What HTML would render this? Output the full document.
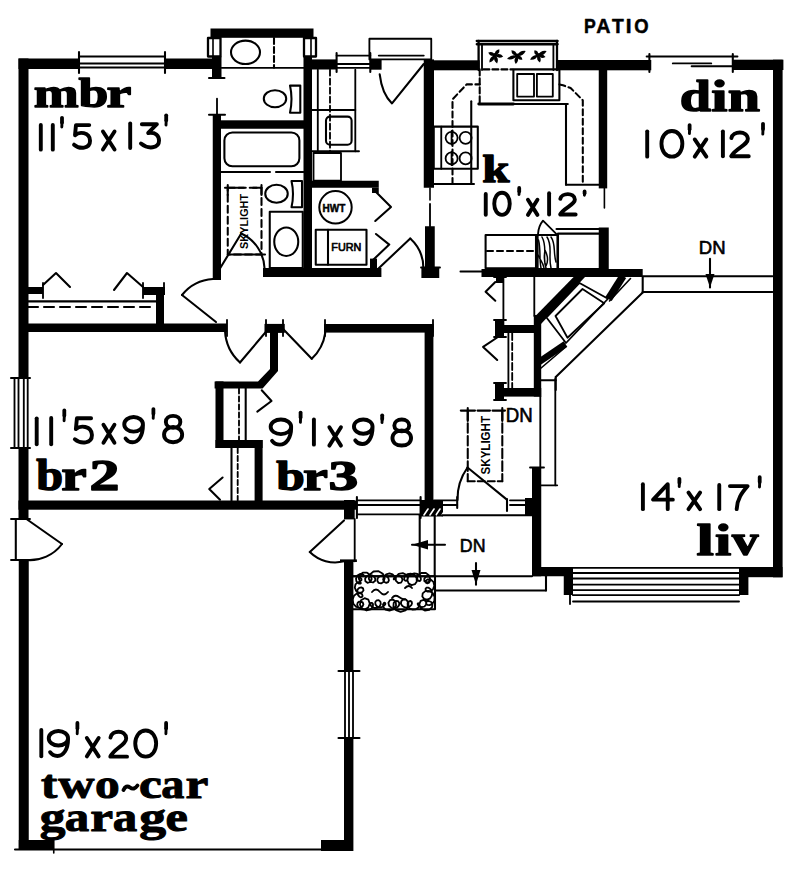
<!DOCTYPE html>
<html><head><meta charset="utf-8"><style>
html,body{margin:0;padding:0;background:#fff;}
svg{display:block;}
</style></head><body>
<svg width="800" height="871" viewBox="0 0 800 871">
<rect width="800" height="871" fill="#fff"/>
<g fill="#000">
<rect x="18.5" y="58.5" width="60.5" height="10.5"/>
<rect x="165" y="58.5" width="47" height="10.5"/>
<rect x="210.5" y="28.5" width="103.0" height="9.3"/>
<rect x="212" y="56.5" width="9.5" height="21.5"/>
<rect x="303.5" y="56.5" width="8.5" height="220.5"/>
<rect x="312" y="59.4" width="24.6" height="10.1"/>
<rect x="370.3" y="59.4" width="11.3" height="10.3"/>
<rect x="423.75" y="59.4" width="10.25" height="128.35"/>
<rect x="434" y="60.3" width="45.7" height="10.0"/>
<rect x="557.5" y="60" width="93.75" height="10.3"/>
<rect x="732.8" y="59.7" width="50.6" height="10.3"/>
<rect x="773" y="59.7" width="9.6" height="517.6"/>
<rect x="598.75" y="60" width="8.45" height="128.4"/>
<rect x="212.75" y="114.7" width="8.25" height="165.3"/>
<rect x="221" y="120.3" width="83" height="8.45"/>
<rect x="310.5" y="180.75" width="68.25" height="7.0"/>
<rect x="372" y="187.75" width="6.75" height="5.25"/>
<rect x="370" y="258.6" width="7" height="11.4"/>
<rect x="263" y="268" width="118.4" height="9"/>
<rect x="425" y="226.25" width="9.75" height="50.75"/>
<rect x="421.4" y="268" width="17.85" height="10"/>
<path d="M494.9,55.3 Q493.0,50.6 488.3,52.5 Q490.2,57.2 494.9,55.3 Z"/>
<path d="M494.9,55.3 Q500.0,54.3 499.3,49.2 Q494.2,50.1 494.9,55.3 Z"/>
<path d="M494.9,55.3 Q498.6,59.4 503.2,56.4 Q499.5,52.2 494.9,55.3 Z"/>
<path d="M494.9,55.3 Q492.5,60.3 497.1,63.5 Q499.5,58.4 494.9,55.3 Z"/>
<path d="M494.9,55.3 Q489.3,56.6 489.4,62.4 Q495.0,61.0 494.9,55.3 Z"/>
<circle cx="494.9020902090209" cy="55.25192519251925" r="2.2"/>
<path d="M516.9,55.8 Q516.7,50.5 511.4,50.3 Q511.6,55.6 516.9,55.8 Z"/>
<path d="M516.9,55.8 Q523.1,56.5 525.7,50.9 Q519.5,50.2 516.9,55.8 Z"/>
<path d="M516.9,55.8 Q510.8,54.0 507.0,59.1 Q513.1,60.9 516.9,55.8 Z"/>
<path d="M516.9,55.8 Q512.8,59.5 515.8,64.1 Q519.9,60.4 516.9,55.8 Z"/>
<path d="M516.9,55.8 Q517.6,60.7 522.4,59.7 Q521.7,54.8 516.9,55.8 Z"/>
<circle cx="516.9042904290429" cy="55.801980198019805" r="2.2"/>
<path d="M537.8,55.3 Q539.2,50.8 534.5,50.3 Q533.2,54.8 537.8,55.3 Z"/>
<path d="M537.8,55.3 Q543.8,56.3 546.6,50.9 Q540.6,49.8 537.8,55.3 Z"/>
<path d="M537.8,55.3 Q532.2,54.3 530.1,59.7 Q535.7,60.6 537.8,55.3 Z"/>
<path d="M537.8,55.3 Q535.5,59.9 540.0,62.4 Q542.3,57.8 537.8,55.3 Z"/>
<path d="M537.8,55.3 Q540.9,59.6 545.5,56.9 Q542.4,52.6 537.8,55.3 Z"/>
<circle cx="537.8063806380638" cy="55.25192519251925" r="2.2"/>
<rect x="18.5" y="58.5" width="10.0" height="319.5"/>
<rect x="28" y="287" width="15" height="7"/>
<rect x="143" y="287" width="22" height="8"/>
<rect x="156" y="287" width="8" height="37"/>
<rect x="19" y="323.5" width="208" height="8.5"/>
<rect x="264.5" y="323.9" width="20.25" height="9.0"/>
<polygon points="270,324 278,324 278,371 262.6,388.5 214.6,388.5 214.6,381.4 258,381.4 270,369"/>
<rect x="215.5" y="381.4" width="8.0" height="66.6"/>
<rect x="215.5" y="440" width="47.1" height="8"/>
<rect x="254.6" y="440" width="8.0" height="68"/>
<rect x="324" y="324" width="109.6" height="8.6"/>
<rect x="424.6" y="324" width="8.8" height="184.75"/>
<rect x="18.5" y="500.5" width="338.4" height="9.2"/>
<rect x="18.5" y="448" width="10.0" height="71"/>
<rect x="18.75" y="560" width="10.0" height="290"/>
<rect x="18.75" y="840" width="35.0" height="10"/>
<rect x="321" y="840" width="32" height="11"/>
<rect x="344" y="500" width="10.7" height="19.4"/>
<rect x="340" y="559.4" width="16.9" height="2.6"/>
<rect x="344" y="561.3" width="9.4" height="109.7"/>
<rect x="344" y="738" width="9.4" height="113"/>
<rect x="420.6" y="500" width="22.4" height="16.5"/>
<rect x="525" y="498" width="7" height="17"/>
<rect x="532" y="467.5" width="9.25" height="108.75"/>
<rect x="532" y="567" width="40.2" height="9.25"/>
<rect x="563.75" y="567" width="9.25" height="28"/>
<rect x="739" y="567" width="43.5" height="10.2"/>
<rect x="739" y="567" width="9.4" height="28"/>
<polygon points="412,544.75 428,540 428,549.5"/>
<polygon points="476,584.7 471.5,570 480.5,570"/>
<rect x="481.5" y="269" width="161.2" height="8"/>
<rect x="598.75" y="227.5" width="10.0" height="42.5"/>
<rect x="496" y="277" width="7.4" height="6"/>
<rect x="495" y="325" width="40" height="8"/>
<rect x="495" y="320" width="9" height="17"/>
<rect x="495.3" y="388" width="45.95" height="8.6"/>
<rect x="495" y="383" width="9" height="17"/>
<rect x="533.8" y="315" width="7.4" height="81.6"/>
<polygon points="573.6,277 585,277 541,324 535.4,316"/>
<polygon points="710,287.5 705.5,274 714.5,274"/>
</g>
<g fill="none" stroke="#000" stroke-width="1.6" stroke-linecap="round" stroke-linejoin="round">
<line x1="79" y1="52" x2="79" y2="73" stroke-width="2.07"/>
<line x1="165" y1="52" x2="165" y2="73" stroke-width="2.07"/>
<line x1="79" y1="56.5" x2="165" y2="56.5" stroke-width="1.84"/>
<line x1="79" y1="63.5" x2="165" y2="63.5" stroke-width="1.84"/>
<line x1="79" y1="67.5" x2="165" y2="67.5" stroke-width="1.84"/>
<rect x="208" y="38" width="12.5" height="18.5" stroke-width="2.30"/>
<line x1="213" y1="38" x2="213" y2="56.5" stroke-width="1.61"/>
<rect x="304" y="38" width="12" height="18.5" stroke-width="2.30"/>
<line x1="311" y1="38" x2="311" y2="56.5" stroke-width="1.61"/>
<line x1="209" y1="78" x2="224.5" y2="78" stroke-width="2.07"/>
<line x1="221.5" y1="67.8" x2="304" y2="67.8" stroke-width="1.84"/>
<ellipse cx="245.5" cy="52.3" rx="14.5" ry="11.7" stroke-width="2.07"/>
<line x1="274" y1="38" x2="274" y2="67.8" stroke-width="2.07" stroke-dasharray="6,3"/>
<ellipse cx="275" cy="98.7" rx="11.2" ry="8.5" stroke-width="2.07"/>
<path d="M290,85.6 L300.3,85.6 L300.3,112.8 L290,112.8 Q293,99 290,85.6 Z" stroke-width="2.07"/>
<line x1="336.6" y1="53" x2="336.6" y2="72" stroke-width="2.07"/>
<line x1="370.3" y1="53" x2="370.3" y2="72" stroke-width="2.07"/>
<line x1="336.6" y1="55.6" x2="370.3" y2="55.6" stroke-width="1.84"/>
<line x1="336.6" y1="64" x2="370.3" y2="64" stroke-width="1.84"/>
<line x1="336.6" y1="67.8" x2="370.3" y2="67.8" stroke-width="1.84"/>
<rect x="369.4" y="38.75" width="61.85" height="20.65" stroke-width="1.84"/>
<line x1="378.75" y1="55.6" x2="423.75" y2="55.6" stroke-width="1.84"/>
<path d="M379.7,74.4 Q382,94 392,103.4 L423.75,64" stroke-width="2.07"/>
<line x1="430" y1="188" x2="430" y2="200" stroke-width="1.61"/>
<line x1="476.75" y1="41" x2="557.6" y2="41" stroke-width="2.30"/>
<line x1="476.75" y1="44.25" x2="557.6" y2="44.25" stroke-width="2.30"/>
<line x1="478.6" y1="41" x2="478.6" y2="70" stroke-width="2.30"/>
<line x1="482" y1="44" x2="482" y2="70" stroke-width="1.84"/>
<line x1="553.4" y1="44" x2="553.4" y2="70" stroke-width="1.84"/>
<line x1="557" y1="41" x2="557" y2="70" stroke-width="2.30"/>
<line x1="646.6" y1="56.5" x2="737.5" y2="56.5" stroke-width="1.84"/>
<line x1="672.8" y1="63.4" x2="711.25" y2="63.4" stroke-width="1.84"/>
<line x1="691.6" y1="66.25" x2="732.8" y2="66.25" stroke-width="1.84"/>
<line x1="649.4" y1="54" x2="649.4" y2="72" stroke-width="2.07"/>
<line x1="732.8" y1="54" x2="732.8" y2="72" stroke-width="2.07"/>
<line x1="604.4" y1="188.4" x2="604.4" y2="208" stroke-width="1.61"/>
<line x1="217" y1="98.75" x2="217" y2="114.7" stroke-width="1.84"/>
<line x1="209" y1="114.7" x2="225" y2="114.7" stroke-width="2.07"/>
<rect x="224.4" y="132.5" width="75.0" height="33.75" stroke-width="2.07" rx="8"/>
<line x1="221" y1="172" x2="270" y2="172" stroke-width="2.07"/>
<line x1="276" y1="172" x2="303.5" y2="172" stroke-width="2.07"/>
<rect x="227.75" y="187.75" width="33.75" height="66.75" stroke-width="2.07" stroke-dasharray="7,4"/>
<line x1="225" y1="187.75" x2="244" y2="187.75" stroke-width="2.07"/>
<line x1="253" y1="187.75" x2="261.5" y2="187.75" stroke-width="2.07"/>
<line x1="227.75" y1="185" x2="227.75" y2="195" stroke-width="2.07"/>
<line x1="261.5" y1="185" x2="261.5" y2="195" stroke-width="2.07"/>
<line x1="227.75" y1="254.5" x2="265" y2="254.5" stroke-width="2.07"/>
<ellipse cx="276.5" cy="193.75" rx="11.25" ry="9" stroke-width="2.07"/>
<path d="M291.5,181 L302,181 L302,207.25 L291.5,207.25 Q294.5,194 291.5,181 Z" stroke-width="2.07"/>
<rect x="269.75" y="211.75" width="33.0" height="56.25" stroke-width="2.07"/>
<ellipse cx="286.25" cy="241.75" rx="12" ry="14.25" stroke-width="2.07"/>
<line x1="220.25" y1="268" x2="241.25" y2="233.5" stroke-width="2.07"/>
<path d="M241.25,233.5 A40,40 0 0 1 264.5,268" stroke-width="2.07"/>
<line x1="317.8" y1="69.7" x2="317.8" y2="151.25" stroke-width="1.84"/>
<line x1="330" y1="69.7" x2="330" y2="151.25" stroke-width="1.84" stroke-dasharray="6,3"/>
<line x1="355.3" y1="69.7" x2="355.3" y2="151.25" stroke-width="1.84"/>
<line x1="312" y1="110" x2="355.3" y2="110" stroke-width="1.84"/>
<line x1="312" y1="151.25" x2="359" y2="151.25" stroke-width="1.84"/>
<rect x="326" y="116.6" width="25.6" height="28.1" stroke-width="2.07" rx="4"/>
<rect x="313.5" y="153" width="27.5" height="27.75" stroke-width="1.84"/>
<circle cx="335.5" cy="207.3" r="16.2" stroke-width="2"/>
<rect x="315.75" y="229.75" width="50.75" height="35.0" stroke-width="2.07"/>
<line x1="328" y1="229.75" x2="328" y2="264.75" stroke-width="2.07"/>
<polyline points="375.25,191.25 391,207 375.25,221" stroke-width="2.07"/>
<polyline points="376,234 389.25,244.6 373.5,259.5" stroke-width="2.07"/>
<line x1="378.75" y1="268.25" x2="410.25" y2="238.5" stroke-width="2.07"/>
<path d="M410.25,238.5 A40,40 0 0 1 423.4,268.25" stroke-width="2.07"/>
<line x1="430" y1="204" x2="430" y2="226.25" stroke-width="1.84"/>
<path d="M452.5,184 L452.5,99.4 L466.6,84.4 L479.7,84.4" stroke-width="2.07" stroke-dasharray="6,3.5"/>
<line x1="479.7" y1="69.4" x2="479.7" y2="105" stroke-width="2.07" stroke-dasharray="6,3"/>
<line x1="483.4" y1="69.4" x2="512.5" y2="69.4" stroke-width="2.07" stroke-dasharray="6,3"/>
<rect x="513.4" y="69.4" width="46.0" height="30.9" stroke-width="2.07"/>
<rect x="517.2" y="74" width="16.8" height="22.6" stroke-width="1.84"/>
<rect x="536.9" y="74" width="15.9" height="22.6" stroke-width="1.84"/>
<line x1="478.75" y1="104" x2="513.4" y2="104" stroke-width="2.88"/>
<line x1="513.4" y1="104" x2="567.8" y2="104" stroke-width="2.07"/>
<line x1="471.25" y1="101.25" x2="471.25" y2="184" stroke-width="2.07"/>
<line x1="434" y1="184" x2="474" y2="184" stroke-width="2.07"/>
<line x1="566" y1="104" x2="566" y2="184.7" stroke-width="2.07"/>
<line x1="566" y1="184.7" x2="599" y2="184.7" stroke-width="2.07"/>
<path d="M559.4,84.4 L563,85.3 L570.6,88 L582.8,100.3 L582.8,184.7" stroke-width="2.07" stroke-dasharray="6,3.5"/>
<rect x="433.75" y="126.6" width="44.05" height="42.15" stroke-width="2.07"/>
<line x1="441.25" y1="126.6" x2="441.25" y2="168.75" stroke-width="1.84"/>
<circle cx="451.6" cy="137.8" r="6" stroke-width="1.8"/>
<circle cx="465.6" cy="137.8" r="6" stroke-width="1.8"/>
<circle cx="451.6" cy="158.4" r="6" stroke-width="1.8"/>
<circle cx="465.6" cy="158.4" r="6" stroke-width="1.8"/>
<line x1="451.6" y1="131" x2="451.6" y2="144.6" stroke-width="1.84"/>
<line x1="451.6" y1="151.6" x2="451.6" y2="165.2" stroke-width="1.84"/>
<line x1="28" y1="301.4" x2="156" y2="301.4" stroke-width="2.07"/>
<line x1="28" y1="307" x2="156" y2="307" stroke-width="2.07" stroke-dasharray="10,6"/>
<polyline points="43,285 56,273 70,287" stroke-width="2.07"/>
<polyline points="114,290 127,273 143,287" stroke-width="2.07"/>
<line x1="182" y1="295" x2="216" y2="322" stroke-width="2.07"/>
<path d="M213,279 A43,43 0 0 0 182,295" stroke-width="2.07"/>
<path d="M225,330.6 A46,46 0 0 0 240,362.5" stroke-width="2.07"/>
<line x1="240" y1="362.5" x2="270" y2="327" stroke-width="2.07"/>
<line x1="281.4" y1="327.25" x2="311.75" y2="358.75" stroke-width="2.07"/>
<path d="M311.75,358.75 A44,44 0 0 0 325.25,332.9" stroke-width="2.07"/>
<line x1="239" y1="388.5" x2="239" y2="440" stroke-width="1.84" stroke-dasharray="5,3"/>
<line x1="245.7" y1="388.5" x2="245.7" y2="440" stroke-width="2.07"/>
<line x1="231.5" y1="448" x2="231.5" y2="500.5" stroke-width="2.07"/>
<line x1="237.7" y1="448" x2="237.7" y2="500.5" stroke-width="1.84" stroke-dasharray="5,3"/>
<polyline points="261.75,390.25 271.5,401 257.3,411.6" stroke-width="2.07"/>
<polyline points="222.6,477.5 209.25,489 220,499.7" stroke-width="2.07"/>
<line x1="14.5" y1="378" x2="14.5" y2="448" stroke-width="1.84"/>
<line x1="18.5" y1="378" x2="18.5" y2="448" stroke-width="1.84"/>
<line x1="23.8" y1="378" x2="23.8" y2="448" stroke-width="1.84"/>
<line x1="27.7" y1="378" x2="27.7" y2="448" stroke-width="1.84"/>
<line x1="11" y1="378" x2="30" y2="378" stroke-width="2.07"/>
<line x1="11" y1="448" x2="30" y2="448" stroke-width="2.07"/>
<line x1="15.8" y1="519" x2="15.8" y2="560" stroke-width="2.07"/>
<line x1="11" y1="519" x2="30" y2="519" stroke-width="1.84"/>
<line x1="11" y1="560" x2="30" y2="560" stroke-width="1.84"/>
<line x1="26.4" y1="519" x2="62" y2="544" stroke-width="2.07"/>
<path d="M62,544 A40,40 0 0 1 26.4,560" stroke-width="2.07"/>
<line x1="15" y1="849.5" x2="321" y2="849.5" stroke-width="2.07"/>
<line x1="53.75" y1="840" x2="53.75" y2="853" stroke-width="1.61"/>
<line x1="354.7" y1="519" x2="354.7" y2="561.3" stroke-width="1.84"/>
<line x1="344" y1="520.4" x2="309.8" y2="552" stroke-width="2.07"/>
<path d="M309.8,552 A36,36 0 0 0 344,561.3" stroke-width="2.07"/>
<line x1="345" y1="671" x2="345" y2="738" stroke-width="1.84"/>
<line x1="349" y1="671" x2="349" y2="738" stroke-width="1.84"/>
<line x1="353" y1="671" x2="353" y2="738" stroke-width="1.84"/>
<line x1="338.5" y1="671" x2="359.5" y2="671" stroke-width="2.07"/>
<line x1="338.5" y1="738" x2="359.5" y2="738" stroke-width="2.07"/>
<line x1="356.9" y1="500.3" x2="420.6" y2="500.3" stroke-width="1.84"/>
<line x1="356.9" y1="505" x2="420.6" y2="505" stroke-width="1.84"/>
<line x1="356.9" y1="514.4" x2="420.6" y2="514.4" stroke-width="1.84"/>
<line x1="356.9" y1="497" x2="356.9" y2="518" stroke-width="2.07"/>
<line x1="420.6" y1="497" x2="420.6" y2="518" stroke-width="2.07"/>
<line x1="424" y1="515" x2="428" y2="509" stroke="#fff" stroke-width="1.6"/>
<line x1="430" y1="515" x2="434" y2="509" stroke="#fff" stroke-width="1.6"/>
<line x1="436" y1="515" x2="440" y2="509" stroke="#fff" stroke-width="1.6"/>
<line x1="442" y1="515" x2="446" y2="509" stroke="#fff" stroke-width="1.6"/>
<line x1="433.75" y1="500.3" x2="457.2" y2="500.3" stroke-width="1.84"/>
<line x1="433.75" y1="505" x2="457.2" y2="505" stroke-width="1.84"/>
<line x1="457.2" y1="497" x2="457.2" y2="508" stroke-width="2.07"/>
<path d="M457.5,500 A54,54 0 0 1 467.5,467.5" stroke-width="2.07"/>
<line x1="467.5" y1="467.5" x2="506.6" y2="499.4" stroke-width="2.07"/>
<line x1="507" y1="499" x2="507" y2="511" stroke-width="2.07"/>
<line x1="510" y1="500.3" x2="526" y2="500.3" stroke-width="1.84"/>
<line x1="510" y1="505" x2="526" y2="505" stroke-width="1.84"/>
<line x1="442" y1="515.3" x2="532" y2="515.3" stroke-width="2.07"/>
<line x1="467.75" y1="410.6" x2="467.75" y2="481.3" stroke-width="2.07" stroke-dasharray="9.5,3.2"/>
<line x1="502.3" y1="410.6" x2="502.3" y2="481.3" stroke-width="2.07" stroke-dasharray="9.5,3.2"/>
<line x1="467.75" y1="481.3" x2="502.3" y2="481.3" stroke-width="2.07" stroke-dasharray="7,3"/>
<line x1="467.75" y1="408" x2="467.75" y2="421" stroke-width="2.07"/>
<line x1="502.3" y1="408" x2="502.3" y2="421" stroke-width="2.07"/>
<line x1="460.8" y1="410.6" x2="475" y2="410.6" stroke-width="2.07"/>
<line x1="477.5" y1="410.6" x2="490" y2="410.6" stroke-width="2.07"/>
<line x1="492.5" y1="410.6" x2="505" y2="410.6" stroke-width="2.07"/>
<line x1="573" y1="567.8" x2="739" y2="567.8" stroke-width="1.84"/>
<line x1="573" y1="573" x2="739" y2="573" stroke-width="1.84"/>
<line x1="573" y1="578.5" x2="739" y2="578.5" stroke-width="1.84"/>
<line x1="573" y1="584.6" x2="739" y2="584.6" stroke-width="1.84"/>
<line x1="573" y1="590.2" x2="739" y2="590.2" stroke-width="1.84"/>
<line x1="573" y1="595.2" x2="739" y2="595.2" stroke-width="1.84"/>
<line x1="573" y1="601.5" x2="739" y2="601.5" stroke-width="1.84"/>
<line x1="570" y1="595" x2="570" y2="604" stroke-width="1.84"/>
<line x1="419.7" y1="515.3" x2="419.7" y2="576.3" stroke-width="2.07"/>
<line x1="434.7" y1="515.3" x2="434.7" y2="576.3" stroke-width="2.07"/>
<line x1="351.7" y1="576.3" x2="532" y2="576.3" stroke-width="2.07"/>
<line x1="435" y1="590.5" x2="546" y2="590.5" stroke-width="2.07"/>
<line x1="546" y1="576.25" x2="546" y2="590.5" stroke-width="2.07"/>
<line x1="412" y1="544.75" x2="445" y2="544.75" stroke-width="2.07"/>
<line x1="476" y1="563" x2="476" y2="584.7" stroke-width="2.07"/>
<rect x="351.7" y="576.3" width="83.3" height="33.0" stroke-width="2.07"/>
<path d="M360.0,577.5 L360.9,578.2 L361.5,579.1 L361.5,580.1 L360.6,580.6 L359.3,580.0 L358.6,577.9 L359.7,574.9 L362.8,572.7 L367.1,572.7 L370.6,575.2 L371.7,579.0 L370.2,582.0 L367.5,582.8 L365.4,581.3 L365.1,578.7 L366.6,576.3 L369.1,575.1 L371.8,575.3 L374.1,576.6 L375.3,578.8 L375.0,581.1 L373.0,582.5 L370.4,581.8 L368.8,578.8 L369.7,574.6 L373.5,571.5 L378.6,571.2 L382.9,573.8 L384.7,578.0 L383.7,581.7 L381.1,583.4 L378.5,582.8 L377.3,580.8 L377.6,578.5 L379.0,576.7 L381.0,575.7 L383.0,575.4 L385.1,575.7 L387.0,576.6 L388.4,578.2 L388.9,580.3 L388.1,582.1 L386.3,582.9 L384.3,582.0 L383.1,579.7 L383.8,576.7 L386.2,574.3 L389.5,573.4 L392.6,574.4 L394.4,576.3 L394.8,578.2 L394.3,579.3 L393.8,579.4 L393.7,579.1 L393.8,578.5 L394.2,577.8 L395.0,576.7 L396.7,575.7 L399.2,575.7 L401.7,577.3 L402.5,580.1 L401.1,582.6 L398.2,583.0 L395.8,580.7 L395.9,576.9 L398.7,573.8 L402.8,573.1 L406.2,574.8 L407.7,577.5 L407.4,579.7 L406.2,580.8 L405.0,580.6 L404.3,579.6 L404.2,577.9 L405.2,575.9 L407.4,574.2 L410.7,573.6 L414.1,574.8 L416.5,577.7 L416.8,581.4 L414.9,584.2 L411.7,585.1 L408.7,583.6 L407.4,580.4 L408.2,576.8 L410.8,574.3 L414.3,573.3 L417.4,574.0 L419.5,575.5 L420.6,577.4 L420.9,579.0 L420.6,580.3 L419.8,581.0 L418.5,580.9 L417.4,579.7 L417.2,577.4 L418.6,574.6 L421.8,572.8 L425.9,573.0 L429.1,575.4 L430.2,579.0 L428.8,581.9 L426.2,582.6 L424.3,581.1 L424.3,578.7 L425.8,576.9 L428.0,576.3 L429.4,577.0 L430.0,578.4 L430.1,579.8 L429.9,581.3 L429.0,582.7 L427.4,583.4 L425.9,582.7 L425.7,580.9 L427.5,579.4 L430.6,579.5 L433.4,581.9 L434.3,585.8 L432.9,589.5 L430.1,591.5 L427.3,591.5 L425.7,590.2 L425.6,588.6 L426.6,587.7 L428.1,587.6 L429.5,588.3 L430.8,589.5 L431.8,591.3 L432.2,593.7 L431.6,596.3 L429.8,598.6 L427.0,599.7 L424.1,598.9 L422.3,596.5 L422.7,593.4 L425.3,591.1 L429.2,590.9 L432.7,593.0 L434.6,596.9 L434.3,600.9 L432.2,603.9 L429.6,605.1 L427.4,604.9 L426.1,603.8 L426.0,602.4 L427.0,601.4 L428.9,601.0 L431.2,602.0 L432.5,604.0 L432.1,607.1 L429.2,609.9 L424.8,610.5 L420.8,608.2 L419.3,604.2 L420.7,600.8 L423.7,599.8 L426.0,601.5 L426.3,604.3 L424.5,606.5 L422.0,607.2 L420.0,606.7 L418.7,605.7 L418.0,604.9 L417.7,604.2 L417.7,603.5 L418.2,603.2 L418.9,603.7 L419.3,605.4 L418.3,607.6 L415.9,609.3 L412.6,609.7 L409.4,608.3 L407.7,605.7 L407.6,603.0 L408.9,601.3 L410.6,601.0 L411.8,602.0 L412.0,603.5 L411.3,605.1 L410.1,606.2 L408.4,607.0 L406.6,607.4 L404.4,607.1 L402.4,606.0 L401.0,603.9 L401.2,601.3 L403.1,599.4 L406.1,599.6 L408.4,602.3 L408.4,606.5 L405.5,610.4 L400.6,611.8 L395.9,610.1 L393.4,606.5 L393.7,602.9 L395.8,600.9 L398.1,601.2 L399.3,603.0 L399.0,605.3 L397.3,607.3 L394.7,608.3 L391.6,607.9 L389.1,605.8 L388.4,602.7 L390.0,600.1 L393.0,599.5 L395.7,601.7 L396.1,605.6 L393.7,609.2 L389.5,610.7 L385.5,609.6 L383.2,607.0 L383.0,604.4 L383.9,602.9 L384.9,602.7 L385.4,603.4 L385.3,604.2 L384.7,605.0 L384.0,605.7 L382.9,606.6 L381.3,607.3 L379.1,607.3 L376.9,606.4 L375.4,604.4 L375.3,602.0 L376.7,600.3 L378.7,600.1 L380.4,601.6 L380.8,604.1 L379.5,606.5 L377.0,607.9 L374.4,608.0 L372.3,607.1 L371.0,605.8 L370.5,604.5 L370.5,603.4 L371.0,602.8 L372.0,602.8 L373.0,604.1 L372.9,606.7 L370.7,609.4 L366.5,610.5 L362.2,608.7 L359.9,604.6 L361.0,600.2 L364.6,598.2 L368.4,599.7 L369.8,603.6 L368.2,607.5 L364.5,609.5 L360.7,609.1 L358.1,607.1 L357.2,604.6 L357.7,602.7 L358.9,601.7 L360.8,601.6 L362.7,602.4 L363.4,604.4 L362.4,606.6 L359.7,607.7 L356.2,606.9 L353.4,603.9 L352.6,599.7 L354.0,595.7 L356.9,593.4 L360.0,593.0 L362.1,594.2 L362.6,595.9 L361.9,597.0 L360.6,597.3 L359.4,596.7 L358.5,595.7 L357.8,594.5 L357.3,593.1 L357.2,591.4 L357.7,589.4 L359.2,587.8 L361.3,587.4 L363.1,588.4 L363.5,590.5 L361.9,592.4 L359.0,592.7 L356.1,590.9 L354.8,587.6 L355.5,584.3 L357.5,582.3 L359.5,581.9 L360.7,582.5 L360.8,583.3 L360.3,583.7 L359.2,583.7 L357.8,583.0 L356.4,581.3 L356.0,578.5 L357.3,575.5 L360.4,573.9 L363.6,574.9" stroke-width="1.8"/>
<path d="M372,592 q4,-5 8,0 t8,0 M392,598 q3,-4 7,-1 t6,2 M405,588 q4,-4 7,0" stroke-width="1.84"/>
<line x1="460.4" y1="271.5" x2="481.5" y2="271.5" stroke-width="1.84"/>
<rect x="485.6" y="235" width="52.0" height="33.25" stroke-width="2.07"/>
<line x1="487" y1="251" x2="535" y2="251" stroke-width="2.07" stroke-dasharray="6,4"/>
<rect x="536" y="235" width="21.5" height="34" stroke-width="2.07"/>
<path d="M538,234.2 Q538.5,226 543,220.7 L556.5,234.2" stroke-width="1.84"/>
<path d="M538.5,240 C541,250 539,258 541,268 M542,237 C548,248 542,258 546,268 M547,237 C553,246 548,256 551,268 M551,237 C556,244 553,252 556,262 M538,255 C540,260 543,262 544,268 M545,250 C548,256 548,262 546,266 C544,262 544,256 545,250 Z" stroke-width="1.49"/>
<rect x="558" y="233.6" width="42" height="35.4" stroke-width="2.07"/>
<line x1="556.5" y1="229" x2="600" y2="229" stroke-width="2.07"/>
<line x1="503.4" y1="277" x2="503.4" y2="326" stroke-width="1.84"/>
<line x1="534.3" y1="277" x2="534.3" y2="316" stroke-width="1.84"/>
<polyline points="495.3,282 485.6,291.8 495.3,300.75" stroke-width="2.07"/>
<polyline points="497.2,337.5 483.1,346.9 497.2,360" stroke-width="2.07"/>
<line x1="508.4" y1="333" x2="508.4" y2="388" stroke-width="1.84"/>
<line x1="512.2" y1="333" x2="512.2" y2="388" stroke-width="1.84" stroke-dasharray="7,3"/>
<line x1="540.3" y1="396.6" x2="540.3" y2="467.5" stroke-width="1.84"/>
<line x1="555.3" y1="378.75" x2="555.3" y2="485.3" stroke-width="1.84"/>
<line x1="540.3" y1="485.3" x2="557.2" y2="485.3" stroke-width="1.84"/>
<polygon points="579.5,283 608,298.75 566,343 546.5,317.5" fill="#fff" stroke-width="1.8"/>
<polygon points="582.5,289 604.25,303.25 567.5,337.75 555.5,316" stroke-width="1.8"/>
<line x1="623" y1="276" x2="608.5" y2="299" stroke-width="7.5" stroke-linecap="butt"/>
<line x1="609.5" y1="301" x2="630.5" y2="278.5" stroke-width="1.61"/>
<line x1="539" y1="362" x2="565.5" y2="344" stroke-width="6.5" stroke-linecap="butt"/>
<line x1="540.5" y1="368.5" x2="566" y2="346.75" stroke-width="1.61"/>
<line x1="642.7" y1="277" x2="642.7" y2="292.5" stroke-width="2.07"/>
<line x1="642.7" y1="292.5" x2="555.75" y2="377" stroke-width="2.07"/>
<line x1="541" y1="380.25" x2="555.75" y2="380.25" stroke-width="2.07"/>
<line x1="555.75" y1="377" x2="555.75" y2="390" stroke-width="2.07"/>
<line x1="642.7" y1="276.25" x2="772.5" y2="276.25" stroke-width="2.07"/>
<line x1="642.7" y1="292" x2="772.5" y2="292" stroke-width="2.07"/>
<line x1="710" y1="258.75" x2="710" y2="287.5" stroke-width="2.07"/>
<line x1="43" y1="283" x2="43" y2="298" stroke-width="1.84"/>
<line x1="143" y1="283" x2="143" y2="298" stroke-width="1.84"/>
<line x1="227" y1="320" x2="227" y2="336" stroke-width="1.84"/>
<line x1="266" y1="320" x2="266" y2="336" stroke-width="1.84"/>
<line x1="283" y1="320" x2="283" y2="336" stroke-width="1.84"/>
<line x1="325" y1="320" x2="325" y2="336" stroke-width="1.84"/>
<line x1="433" y1="320" x2="433" y2="336" stroke-width="1.84"/>
<line x1="164" y1="283" x2="164" y2="290" stroke-width="1.84"/>
<line x1="530" y1="467.5" x2="544" y2="467.5" stroke-width="1.84"/>
<line x1="421" y1="267.5" x2="440" y2="267.5" stroke-width="1.84"/>
<line x1="494" y1="277" x2="506" y2="277" stroke-width="1.84"/>
<line x1="494" y1="320" x2="506" y2="320" stroke-width="1.84"/>
<line x1="494" y1="337" x2="506" y2="337" stroke-width="1.84"/>
<line x1="494" y1="383" x2="506" y2="383" stroke-width="1.84"/>
<line x1="494" y1="400" x2="506" y2="400" stroke-width="1.84"/>
<path d="M40.80,125.05 L40.80,149.65" stroke-width="3.9"/>
<path d="M52.80,125.05 L52.80,149.65" stroke-width="3.9"/>
<path d="M62.00,117.80 L62.00,122.40" stroke-width="3.8"/>
<path d="M62.00,122.40 L61.80,127.00" stroke-width="2.9"/>
<path d="M89.25,125.08 L75.97,125.08 L75.01,135.24 C78.85,131.61 89.73,131.61 90.05,140.81 C90.05,149.03 79.65,149.52 74.05,144.68" stroke-width="3.9"/>
<path d="M102.95,131.45 L114.55,149.55 M114.55,131.45 L102.95,149.55" stroke-width="3.9"/>
<path d="M130.20,123.45 L130.20,148.05" stroke-width="3.9"/>
<path d="M141.85,124.20 L156.88,124.20 L148.19,132.99 C155.43,131.73 159.05,136.00 159.05,140.52 C159.05,148.55 148.19,149.55 140.95,143.53" stroke-width="3.9"/>
<path d="M166.20,115.30 L166.20,120.20" stroke-width="3.8"/>
<path d="M166.20,120.20 L166.00,125.10" stroke-width="2.9"/>
<path d="M647.20,131.35 L647.20,156.65" stroke-width="3.9"/>
<path d="M671.90,130.95 C678.17,130.95 682.35,136.60 682.35,143.80 C682.35,151.00 678.17,156.65 671.90,156.65 C665.63,156.65 661.45,151.00 661.45,143.80 C661.45,136.60 665.63,130.95 671.90,130.95 Z" stroke-width="3.9"/>
<path d="M689.60,125.10 L689.60,129.35" stroke-width="3.8"/>
<path d="M689.60,129.35 L689.40,133.60" stroke-width="2.9"/>
<path d="M694.75,139.45 L706.35,156.65 M706.35,139.45 L694.75,156.65" stroke-width="3.9"/>
<path d="M722.90,131.35 L722.90,156.25" stroke-width="3.9"/>
<path d="M731.39,138.07 C732.64,130.85 747.32,130.10 747.86,138.82 C748.03,145.04 735.33,148.28 731.21,156.25 L748.75,156.25" stroke-width="3.9"/>
<path d="M763.00,123.80 L763.00,128.95" stroke-width="3.8"/>
<path d="M763.00,128.95 L762.80,134.10" stroke-width="2.9"/>
<path d="M485.75,193.95 L485.75,214.85" stroke-width="3.9"/>
<path d="M502.00,192.75 C506.65,192.75 509.75,197.61 509.75,203.80 C509.75,209.99 506.65,214.85 502.00,214.85 C497.35,214.85 494.25,209.99 494.25,203.80 C494.25,197.61 497.35,192.75 502.00,192.75 Z" stroke-width="3.9"/>
<path d="M519.20,188.00 L519.20,191.25" stroke-width="3.8"/>
<path d="M519.20,191.25 L519.00,194.50" stroke-width="2.9"/>
<path d="M527.95,199.75 L537.45,214.85 M537.45,199.75 L527.95,214.85" stroke-width="3.9"/>
<path d="M549.10,193.15 L549.10,214.45" stroke-width="3.9"/>
<path d="M560.32,198.90 C561.43,192.72 574.39,192.08 574.86,199.54 C575.02,204.87 563.80,207.63 560.17,214.45 L575.65,214.45" stroke-width="3.9"/>
<path d="M584.60,191.40 L584.60,193.30" stroke-width="3.8"/>
<path d="M584.60,193.30 L584.40,195.20" stroke-width="2.9"/>
<path d="M36.70,418.35 L36.70,444.25" stroke-width="3.9"/>
<path d="M51.20,417.95 L51.20,444.25" stroke-width="3.9"/>
<path d="M64.30,410.40 L64.30,415.55" stroke-width="3.8"/>
<path d="M64.30,415.55 L64.10,420.70" stroke-width="2.9"/>
<path d="M91.09,418.32 L76.90,418.32 L75.88,429.16 C79.98,425.29 91.61,425.29 91.95,435.09 C91.95,443.87 80.84,444.38 74.85,439.22" stroke-width="3.9"/>
<path d="M103.45,424.75 L114.45,442.80 M114.45,424.75 L103.45,442.80" stroke-width="3.9"/>
<path d="M133.60,416.95 C138.84,416.95 142.95,420.24 142.95,424.29 C142.95,428.33 138.84,431.62 133.60,431.62 C128.36,431.62 124.25,428.33 124.25,424.29 C124.25,420.24 128.36,416.95 133.60,416.95 Z M142.95,425.05 C142.95,435.93 138.28,442.25 132.67,442.25 C129.86,442.25 127.06,440.73 125.56,438.45" stroke-width="3.9"/>
<path d="M153.40,409.10 L153.40,413.75" stroke-width="3.8"/>
<path d="M153.40,413.75 L153.20,418.40" stroke-width="2.9"/>
<path d="M173.10,415.85 C177.26,415.85 180.34,418.49 180.34,421.92 C180.34,425.35 177.26,427.73 173.10,427.73 C168.94,427.73 165.86,425.35 165.86,421.92 C165.86,418.49 168.94,415.85 173.10,415.85 Z M173.10,426.94 C178.53,426.94 182.15,430.37 182.15,434.59 C182.15,439.08 178.53,442.25 173.10,442.25 C167.67,442.25 164.05,439.08 164.05,434.59 C164.05,430.37 167.67,426.94 173.10,426.94 Z" stroke-width="3.9"/>
<path d="M280.90,419.55 C286.64,419.55 291.15,422.81 291.15,426.83 C291.15,430.85 286.64,434.11 280.90,434.11 C275.16,434.11 270.65,430.85 270.65,426.83 C270.65,422.81 275.16,419.55 280.90,419.55 Z M291.15,427.58 C291.15,438.38 286.03,444.65 279.88,444.65 C276.80,444.65 273.72,443.14 272.08,440.89" stroke-width="3.9"/>
<path d="M300.60,412.60 L300.60,417.50" stroke-width="3.8"/>
<path d="M300.60,417.50 L300.40,422.40" stroke-width="2.9"/>
<path d="M313.90,419.55 L313.90,444.65" stroke-width="3.9"/>
<path d="M329.35,427.25 L340.95,445.65 M340.95,427.25 L329.35,445.65" stroke-width="3.9"/>
<path d="M363.25,419.45 C368.46,419.45 372.55,422.65 372.55,426.58 C372.55,430.52 368.46,433.72 363.25,433.72 C358.04,433.72 353.95,430.52 353.95,426.58 C353.95,422.65 358.04,419.45 363.25,419.45 Z M372.55,427.32 C372.55,437.90 367.90,444.05 362.32,444.05 C359.53,444.05 356.74,442.57 355.25,440.36" stroke-width="3.9"/>
<path d="M382.20,415.30 L382.20,418.95" stroke-width="3.8"/>
<path d="M382.20,418.95 L382.00,422.60" stroke-width="2.9"/>
<path d="M401.75,419.45 C406.03,419.45 409.19,422.06 409.19,425.45 C409.19,428.85 406.03,431.19 401.75,431.19 C397.47,431.19 394.31,428.85 394.31,425.45 C394.31,422.06 397.47,419.45 401.75,419.45 Z M401.75,430.41 C407.33,430.41 411.05,433.81 411.05,437.98 C411.05,442.42 407.33,445.55 401.75,445.55 C396.17,445.55 392.45,442.42 392.45,437.98 C392.45,433.81 396.17,430.41 401.75,430.41 Z" stroke-width="3.9"/>
<path d="M642.90,484.20 L642.90,509.15" stroke-width="3.9"/>
<path d="M667.73,509.15 L667.73,484.20 L653.15,499.67 L672.85,499.67" stroke-width="3.9"/>
<path d="M679.40,478.80 L679.40,482.70" stroke-width="3.8"/>
<path d="M679.40,482.70 L679.20,486.60" stroke-width="2.9"/>
<path d="M688.55,492.55 L700.05,509.15 M700.05,492.55 L688.55,509.15" stroke-width="3.9"/>
<path d="M719.25,485.05 L719.25,509.15" stroke-width="3.9"/>
<path d="M729.93,486.12 L747.60,486.12 C742.71,492.00 737.07,498.12 736.69,509.15" stroke-width="3.9"/>
<path d="M759.70,477.05 L759.70,482.02" stroke-width="3.8"/>
<path d="M759.70,482.02 L759.50,487.00" stroke-width="2.9"/>
<path d="M41.30,730.05 L41.30,756.35" stroke-width="3.9"/>
<path d="M58.40,730.95 C63.80,730.95 68.05,734.20 68.05,738.20 C68.05,742.20 63.80,745.45 58.40,745.45 C53.00,745.45 48.75,742.20 48.75,738.20 C48.75,734.20 53.00,730.95 58.40,730.95 Z M68.05,738.95 C68.05,749.70 63.22,755.95 57.44,755.95 C54.54,755.95 51.64,754.45 50.10,752.20" stroke-width="3.9"/>
<path d="M77.40,722.90 L77.40,728.30" stroke-width="3.8"/>
<path d="M77.40,728.30 L77.20,733.70" stroke-width="2.9"/>
<path d="M86.85,737.95 L98.65,756.35 M98.65,737.95 L86.85,756.35" stroke-width="3.9"/>
<path d="M110.46,737.60 C111.66,730.03 125.68,729.25 126.19,738.38 C126.37,744.90 114.22,748.30 110.29,756.65 L127.05,756.65" stroke-width="3.9"/>
<path d="M145.70,730.55 C151.97,730.55 156.15,736.29 156.15,743.60 C156.15,750.91 151.97,756.65 145.70,756.65 C139.43,756.65 135.25,750.91 135.25,743.60 C135.25,736.29 139.43,730.55 145.70,730.55 Z" stroke-width="3.9"/>
<path d="M166.10,722.90 L166.10,728.30" stroke-width="3.8"/>
<path d="M166.10,728.30 L165.90,733.70" stroke-width="2.9"/>
<path d="M123.5,790 Q126,784.5 130,787.5 Q134,790.5 137.5,785.5" stroke-width="3.91"/>
</g>
<g fill="#000">
<text x="33.85" y="107.4" font-family="&quot;Liberation Serif&quot;, sans-serif" font-weight="bold" font-size="43" textLength="44.97" lengthAdjust="spacingAndGlyphs" style="font-kerning:none" stroke="#000" stroke-width="1.4" stroke-linejoin="round">m</text>
<text x="78.62" y="107.4" font-family="&quot;Liberation Serif&quot;, sans-serif" font-weight="bold" font-size="43" textLength="29.86" lengthAdjust="spacingAndGlyphs" style="font-kerning:none" stroke="#000" stroke-width="1.4" stroke-linejoin="round">b</text>
<text x="106.59" y="107.4" font-family="&quot;Liberation Serif&quot;, sans-serif" font-weight="bold" font-size="43" textLength="24.91" lengthAdjust="spacingAndGlyphs" style="font-kerning:none" stroke="#000" stroke-width="1.4" stroke-linejoin="round">r</text>
<text x="679.67" y="111.4" font-family="&quot;Liberation Serif&quot;, sans-serif" font-weight="bold" font-size="44" textLength="31.26" lengthAdjust="spacingAndGlyphs" style="font-kerning:none" stroke="#000" stroke-width="1.4" stroke-linejoin="round">d</text>
<text x="711.22" y="111.4" font-family="&quot;Liberation Serif&quot;, sans-serif" font-weight="bold" font-size="44" textLength="16.24" lengthAdjust="spacingAndGlyphs" style="font-kerning:none" stroke="#000" stroke-width="1.4" stroke-linejoin="round">i</text>
<text x="727.89" y="111.4" font-family="&quot;Liberation Serif&quot;, sans-serif" font-weight="bold" font-size="44" textLength="32.29" lengthAdjust="spacingAndGlyphs" style="font-kerning:none" stroke="#000" stroke-width="1.4" stroke-linejoin="round">n</text>
<text x="482.61" y="182.3" font-family="&quot;Liberation Serif&quot;, sans-serif" font-weight="bold" font-size="37" textLength="26.66" lengthAdjust="spacingAndGlyphs" style="font-kerning:none" stroke="#000" stroke-width="1.6" stroke-linejoin="round">k</text>
<text x="36.34" y="490.2" font-family="&quot;Liberation Serif&quot;, sans-serif" font-weight="bold" font-size="44" textLength="26.82" lengthAdjust="spacingAndGlyphs" style="font-kerning:none" stroke="#000" stroke-width="1.4" stroke-linejoin="round">b</text>
<text x="61.36" y="490.2" font-family="&quot;Liberation Serif&quot;, sans-serif" font-weight="bold" font-size="44" textLength="25.42" lengthAdjust="spacingAndGlyphs" style="font-kerning:none" stroke="#000" stroke-width="1.4" stroke-linejoin="round">r</text>
<text x="89.44" y="490.2" font-family="&quot;Liberation Serif&quot;, sans-serif" font-weight="bold" font-size="44" textLength="29.94" lengthAdjust="spacingAndGlyphs" style="font-kerning:none" stroke="#000" stroke-width="1.4" stroke-linejoin="round">2</text>
<text x="276.30" y="490.2" font-family="&quot;Liberation Serif&quot;, sans-serif" font-weight="bold" font-size="43" textLength="28.59" lengthAdjust="spacingAndGlyphs" style="font-kerning:none" stroke="#000" stroke-width="1.4" stroke-linejoin="round">b</text>
<text x="303.09" y="490.2" font-family="&quot;Liberation Serif&quot;, sans-serif" font-weight="bold" font-size="43" textLength="24.91" lengthAdjust="spacingAndGlyphs" style="font-kerning:none" stroke="#000" stroke-width="1.4" stroke-linejoin="round">r</text>
<text x="328.46" y="490.2" font-family="&quot;Liberation Serif&quot;, sans-serif" font-weight="bold" font-size="43" textLength="29.77" lengthAdjust="spacingAndGlyphs" style="font-kerning:none" stroke="#000" stroke-width="1.4" stroke-linejoin="round">3</text>
<text x="696.48" y="554.8" font-family="&quot;Liberation Serif&quot;, sans-serif" font-weight="bold" font-size="44" textLength="17.39" lengthAdjust="spacingAndGlyphs" style="font-kerning:none" stroke="#000" stroke-width="1.4" stroke-linejoin="round">l</text>
<text x="714.92" y="554.8" font-family="&quot;Liberation Serif&quot;, sans-serif" font-weight="bold" font-size="44" textLength="16.24" lengthAdjust="spacingAndGlyphs" style="font-kerning:none" stroke="#000" stroke-width="1.4" stroke-linejoin="round">i</text>
<text x="731.90" y="554.8" font-family="&quot;Liberation Serif&quot;, sans-serif" font-weight="bold" font-size="44" textLength="26.40" lengthAdjust="spacingAndGlyphs" style="font-kerning:none" stroke="#000" stroke-width="1.4" stroke-linejoin="round">v</text>
<text x="40.91" y="798" font-family="&quot;Liberation Serif&quot;, sans-serif" font-weight="bold" font-size="40" textLength="16.30" lengthAdjust="spacingAndGlyphs" style="font-kerning:none" stroke="#000" stroke-width="1.0" stroke-linejoin="round">t</text>
<text x="58.15" y="798" font-family="&quot;Liberation Serif&quot;, sans-serif" font-weight="bold" font-size="40" textLength="36.22" lengthAdjust="spacingAndGlyphs" style="font-kerning:none" stroke="#000" stroke-width="1.0" stroke-linejoin="round">w</text>
<text x="94.92" y="798" font-family="&quot;Liberation Serif&quot;, sans-serif" font-weight="bold" font-size="40" textLength="24.66" lengthAdjust="spacingAndGlyphs" style="font-kerning:none" stroke="#000" stroke-width="1.0" stroke-linejoin="round">o</text>
<text x="139.00" y="798" font-family="&quot;Liberation Serif&quot;, sans-serif" font-weight="bold" font-size="40" textLength="22.78" lengthAdjust="spacingAndGlyphs" style="font-kerning:none" stroke="#000" stroke-width="1.0" stroke-linejoin="round">c</text>
<text x="161.21" y="798" font-family="&quot;Liberation Serif&quot;, sans-serif" font-weight="bold" font-size="40" textLength="23.09" lengthAdjust="spacingAndGlyphs" style="font-kerning:none" stroke="#000" stroke-width="1.0" stroke-linejoin="round">a</text>
<text x="185.52" y="798" font-family="&quot;Liberation Serif&quot;, sans-serif" font-weight="bold" font-size="40" textLength="22.84" lengthAdjust="spacingAndGlyphs" style="font-kerning:none" stroke="#000" stroke-width="1.0" stroke-linejoin="round">r</text>
<text x="39.75" y="830.5" font-family="&quot;Liberation Serif&quot;, sans-serif" font-weight="bold" font-size="42" textLength="25.65" lengthAdjust="spacingAndGlyphs" style="font-kerning:none" stroke="#000" stroke-width="1.0" stroke-linejoin="round">g</text>
<text x="64.83" y="830.5" font-family="&quot;Liberation Serif&quot;, sans-serif" font-weight="bold" font-size="42" textLength="24.41" lengthAdjust="spacingAndGlyphs" style="font-kerning:none" stroke="#000" stroke-width="1.0" stroke-linejoin="round">a</text>
<text x="90.37" y="830.5" font-family="&quot;Liberation Serif&quot;, sans-serif" font-weight="bold" font-size="42" textLength="22.84" lengthAdjust="spacingAndGlyphs" style="font-kerning:none" stroke="#000" stroke-width="1.0" stroke-linejoin="round">r</text>
<text x="112.67" y="830.5" font-family="&quot;Liberation Serif&quot;, sans-serif" font-weight="bold" font-size="42" textLength="24.47" lengthAdjust="spacingAndGlyphs" style="font-kerning:none" stroke="#000" stroke-width="1.0" stroke-linejoin="round">a</text>
<text x="139.34" y="830.5" font-family="&quot;Liberation Serif&quot;, sans-serif" font-weight="bold" font-size="42" textLength="26.79" lengthAdjust="spacingAndGlyphs" style="font-kerning:none" stroke="#000" stroke-width="1.0" stroke-linejoin="round">g</text>
<text x="165.48" y="830.5" font-family="&quot;Liberation Serif&quot;, sans-serif" font-weight="bold" font-size="42" textLength="22.32" lengthAdjust="spacingAndGlyphs" style="font-kerning:none" stroke="#000" stroke-width="1.0" stroke-linejoin="round">e</text>
<text x="584.07" y="33.1" font-family="&quot;Liberation Sans&quot;, sans-serif" font-weight="bold" font-size="19.8" textLength="11.79" lengthAdjust="spacingAndGlyphs" style="font-kerning:none" stroke="#000" stroke-width="0.5" stroke-linejoin="round">P</text>
<text x="596.26" y="33.1" font-family="&quot;Liberation Sans&quot;, sans-serif" font-weight="bold" font-size="19.8" textLength="14.21" lengthAdjust="spacingAndGlyphs" style="font-kerning:none" stroke="#000" stroke-width="0.5" stroke-linejoin="round">A</text>
<text x="611.93" y="33.1" font-family="&quot;Liberation Sans&quot;, sans-serif" font-weight="bold" font-size="19.8" textLength="11.77" lengthAdjust="spacingAndGlyphs" style="font-kerning:none" stroke="#000" stroke-width="0.5" stroke-linejoin="round">T</text>
<text x="625.76" y="33.1" font-family="&quot;Liberation Sans&quot;, sans-serif" font-weight="bold" font-size="19.8" textLength="5.79" lengthAdjust="spacingAndGlyphs" style="font-kerning:none" stroke="#000" stroke-width="0.5" stroke-linejoin="round">I</text>
<text x="634.29" y="33.1" font-family="&quot;Liberation Sans&quot;, sans-serif" font-weight="bold" font-size="19.8" textLength="14.33" lengthAdjust="spacingAndGlyphs" style="font-kerning:none" stroke="#000" stroke-width="0.5" stroke-linejoin="round">O</text>
<text x="322.58" y="211.7" font-family="&quot;Liberation Sans&quot;, sans-serif" font-weight="bold" font-size="11.2" textLength="22.78" lengthAdjust="spacingAndGlyphs" style="font-kerning:none" stroke="#000" stroke-width="0.5" stroke-linejoin="round">HWT</text>
<text x="331.36" y="251.1" font-family="&quot;Liberation Sans&quot;, sans-serif" font-weight="normal" font-size="11.8" textLength="29.96" lengthAdjust="spacingAndGlyphs" style="font-kerning:none" stroke="#000" stroke-width="0.7" stroke-linejoin="round">FURN</text>
<text x="505.77" y="422.3" font-family="&quot;Liberation Sans&quot;, sans-serif" font-weight="normal" font-size="19.5" textLength="26.95" lengthAdjust="spacingAndGlyphs" style="font-kerning:none" stroke="#000" stroke-width="0.6" stroke-linejoin="round">DN</text>
<text x="459.84" y="552" font-family="&quot;Liberation Sans&quot;, sans-serif" font-weight="normal" font-size="19" textLength="25.71" lengthAdjust="spacingAndGlyphs" style="font-kerning:none" stroke="#000" stroke-width="0.6" stroke-linejoin="round">DN</text>
<text x="698.78" y="253.9" font-family="&quot;Liberation Sans&quot;, sans-serif" font-weight="normal" font-size="18" textLength="26.73" lengthAdjust="spacingAndGlyphs" style="font-kerning:none" stroke="#000" stroke-width="0.6" stroke-linejoin="round">DN</text>
<text transform="translate(248.3,248.9) rotate(-90)" font-family="&quot;Liberation Sans&quot;, sans-serif" font-weight="bold" font-size="11.8" textLength="55" lengthAdjust="spacingAndGlyphs">SKYLIGHT</text>
<text transform="translate(489.6,474.4) rotate(-90)" font-family="&quot;Liberation Sans&quot;, sans-serif" font-weight="bold" font-size="12" textLength="58.4" lengthAdjust="spacingAndGlyphs">SKYLIGHT</text>
</g>
</svg>
</body></html>
